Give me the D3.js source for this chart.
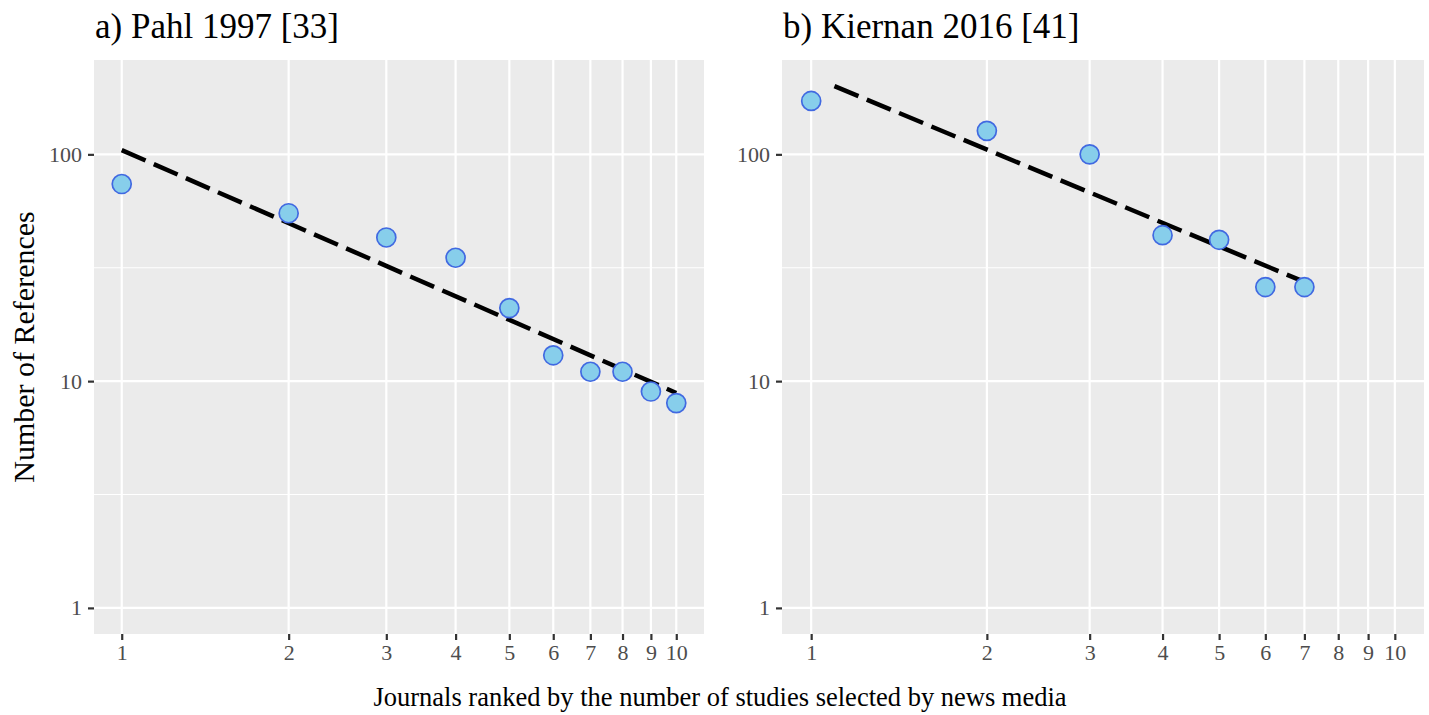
<!DOCTYPE html>
<html>
<head>
<meta charset="utf-8">
<script src="https://cdn.jsdelivr.net/npm/d3@7"></script>
<style>
  body { margin: 0; background: #fff; }
  text { font-family: "Liberation Serif", "Times New Roman", serif; }
</style>
</head>
<body>
<div id="chart"></div>
<script>
// journal rank (x) and number of references (y)
var rankA = [1, 2, 3, 4, 5, 6, 7, 8, 9, 10];
var refsA = [74, 55, 43, 35, 21, 13, 11, 11, 9, 8];
var rankB = [1, 2, 3, 4, 5, 6, 7];
var refsB = [172, 127, 100, 44, 42, 26, 26];

var titles = ["a) Pahl 1997 [33]", "b) Kiernan 2016 [41]"];
var xTicks = [1, 2, 3, 4, 5, 6, 7, 8, 9, 10];
var yTicks = [1, 10, 100];
var yMinor = [Math.sqrt(10), Math.sqrt(1000)];
var xLimits = [1, 10];
var yLimits = [1, 200];

var width = 1429, height = 715;

var svg = d3.select("#chart")
    .append("svg")
    .attr("width", width)
    .attr("height", height);

// log limits with ggplot style 5% expansion
function expandLog(lim) {
    var lo = Math.log10(lim[0]), hi = Math.log10(lim[1]);
    var pad = (hi - lo) * 0.05;
    return [Math.pow(10, lo - pad), Math.pow(10, hi + pad)];
}

var y = d3.scaleLog().domain(expandLog(yLimits)).range([634, 60]);

// least squares fit in log-log space
function logFit(xs, ys) {
    var lx = xs.map(Math.log10), ly = ys.map(Math.log10);
    var mx = d3.mean(lx), my = d3.mean(ly);
    var sxy = d3.sum(lx, function(d, i) { return (d - mx) * (ly[i] - my); });
    var sxx = d3.sum(lx, function(d) { return (d - mx) * (d - mx); });
    var m = sxy / sxx;
    return { m: m, b: my - m * mx };
}

var panels = [
    { x0: 94, x1: 704, rank: rankA, refs: refsA, title: titles[0] },
    { x0: 782, x1: 1424, rank: rankB, refs: refsB, title: titles[1] }
];

panels.forEach(function(p) {
    var x = d3.scaleLog().domain(expandLog(xLimits)).range([p.x0, p.x1]);
    var g = svg.append("g");

    // panel background
    g.append("rect")
        .attr("x", p.x0).attr("y", 60)
        .attr("width", p.x1 - p.x0).attr("height", 574)
        .attr("fill", "#EBEBEB");

    // minor grid
    g.selectAll(".minor")
        .data(yMinor)
        .join("line")
        .attr("x1", p.x0).attr("x2", p.x1)
        .attr("y1", function(d) { return y(d); })
        .attr("y2", function(d) { return y(d); })
        .attr("stroke", "#fff").attr("stroke-width", 1.1);

    // major grid
    g.selectAll(".gy")
        .data(yTicks)
        .join("line")
        .attr("x1", p.x0).attr("x2", p.x1)
        .attr("y1", function(d) { return y(d); })
        .attr("y2", function(d) { return y(d); })
        .attr("stroke", "#fff").attr("stroke-width", 2.2);
    g.selectAll(".gx")
        .data(xTicks)
        .join("line")
        .attr("y1", 60).attr("y2", 634)
        .attr("x1", function(d) { return x(d); })
        .attr("x2", function(d) { return x(d); })
        .attr("stroke", "#fff").attr("stroke-width", 2.2);

    // axes
    var xAxis = g.append("g")
        .attr("transform", "translate(0,634)")
        .call(d3.axisBottom(x).tickValues(xTicks).tickFormat(d3.format("d")).tickSize(6).tickPadding(4));
    var yAxis = g.append("g")
        .attr("transform", "translate(" + p.x0 + ",0)")
        .call(d3.axisLeft(y).tickValues(yTicks).tickFormat(d3.format("d")).tickSize(6).tickPadding(6));
    [xAxis, yAxis].forEach(function(a) {
        a.select(".domain").remove();
        a.selectAll(".tick line").attr("stroke", "#333").attr("stroke-width", 2.2);
        a.selectAll(".tick text")
            .attr("fill", "#4d4d4d")
            .style("font-size", "22px")
            .style("font-family", "'Liberation Serif', serif");
    });

    // fitted line, clipped at the upper y limit
    var fit = logFit(p.rank, p.refs);
    var xStart = Math.max(d3.min(p.rank),
        Math.pow(10, (Math.log10(yLimits[1]) - fit.b) / fit.m));
    var xEnd = d3.max(p.rank);
    var linePts = [xStart, xEnd].map(function(v) {
        return [v, Math.pow(10, fit.b + fit.m * Math.log10(v))];
    });
    g.append("path")
        .datum(linePts)
        .attr("d", d3.line()
            .x(function(d) { return x(d[0]); })
            .y(function(d) { return y(d[1]); }))
        .attr("fill", "none")
        .attr("stroke", "#000")
        .attr("stroke-width", 4.5)
        .attr("stroke-dasharray", "26,9");

    // points
    g.selectAll("circle")
        .data(p.rank)
        .join("circle")
        .attr("cx", function(d) { return x(d); })
        .attr("cy", function(d, i) { return y(p.refs[i]); })
        .attr("r", 9.5)
        .attr("fill", "#87CEEB")
        .attr("stroke", "#4169E1")
        .attr("stroke-width", 1.7);

    // title
    g.append("text")
        .attr("x", p.x0 + 1).attr("y", 38)
        .style("font-size", "35px")
        .attr("fill", "#000")
        .text(p.title);
});

// axis titles
svg.append("text")
    .attr("x", 720).attr("y", 706)
    .attr("text-anchor", "middle")
    .style("font-size", "26.5px")
    .text("Journals ranked by the number of studies selected by news media");

svg.append("text")
    .attr("transform", "translate(34,347) rotate(-90)")
    .attr("text-anchor", "middle")
    .style("font-size", "30px")
    .text("Number of References");
</script>
</body>
</html>
